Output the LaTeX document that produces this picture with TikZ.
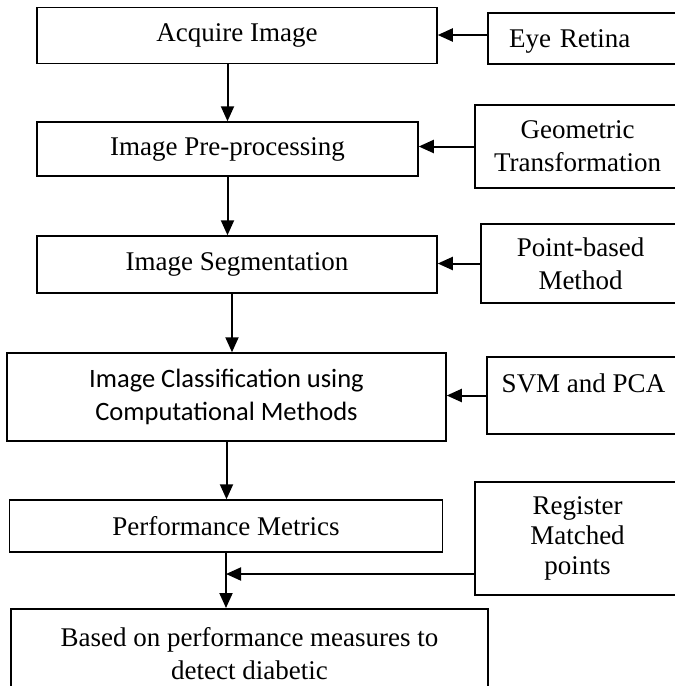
\documentclass[tikz,border=0pt]{standalone}
\usepackage{fontspec}
\setmainfont{Liberation Serif}
\newfontfamily\calibri{Carlito}
\usetikzlibrary{arrows.meta}

\begin{document}
\begin{tikzpicture}
[
  x=1pt, y=-1pt,
	blk/.style={draw,line width=1.5pt,inner sep=0pt,align=center,font=\fontsize{27}{33}\selectfont},
	src/.style={blk},
	arr/.style={line width=2pt,-{Triangle[length=15pt,width=13pt]}}
]
\useasboundingbox (0,0) rectangle (675,686);
\clip (0,0) rectangle (675,686);

% pipeline
\node[blk,minimum width=400pt,minimum height=56pt] (acq) at (237,35.5) {Acquire Image};
\node[blk,minimum width=381pt,minimum height=54pt] (pre) at (227.5,149) {Image Pre-processing};
\node[blk,minimum width=400pt,minimum height=57pt] (seg) at (237,264.5) {Image Segmentation};
\node[blk,minimum width=439pt,minimum height=88pt,font=\calibri\fontsize{26.5}{33}\selectfont] (cls) at (226.5,397) {Image Classification using\\Computational Methods};
\node[blk,minimum width=433pt,minimum height=52pt] (perf) at (226,526) {Performance Metrics};
\node[blk,minimum width=477pt,inner ysep=19pt,anchor=north] (res) at (249.5,608) {Based on performance measures to\\detect diabetic};

% inputs
\node[src,text width=150pt,align=left,inner xsep=21pt,minimum height=51pt,text height=18.5pt,text depth=1pt] (eye) at (584,38.5) {Eye Retina};
\node[src,minimum width=205pt,minimum height=83pt] (geo) at (577.5,146.5) {Geometric\\Transformation};
\node[src,minimum width=199pt,minimum height=79pt] (pts) at (580.5,263.5) {Point-based\\Method};
\node[src,minimum width=193pt,minimum height=77pt,text height=18.5pt,text depth=25.5pt] (svm) at (583.5,395.5) {SVM and PCA};
\node[src,minimum width=205pt,minimum height=113pt,font=\fontsize{27}{30}\selectfont] (reg) at (577.5,538.5) {Register\\Matched\\points};

\coordinate (join) at (perf.south |- 0,574);

% flow
\draw[arr] (acq.south -| pre.north) -- (pre.north);
\draw[arr] (pre.south) -- (pre.south |- seg.north);
\draw[arr] ([xshift=-5pt]seg.south) -- ([xshift=-5pt]seg.south |- cls.north);
\draw[arr] (cls.south) -- (cls.south |- perf.north);
\draw[arr] (perf.south) -- (perf.south |- res.north);

\draw[arr] (eye.west |- 0,35) -- (acq.east |- 0,35);
\draw[arr] (geo.west) -- (geo.west -| pre.east);
\draw[arr] (pts.west) -- (pts.west -| seg.east);
\draw[arr] (svm.west) -- (svm.west -| cls.east);
\draw[arr] (reg.west |- join) -- (join);

\end{tikzpicture}
\end{document}
